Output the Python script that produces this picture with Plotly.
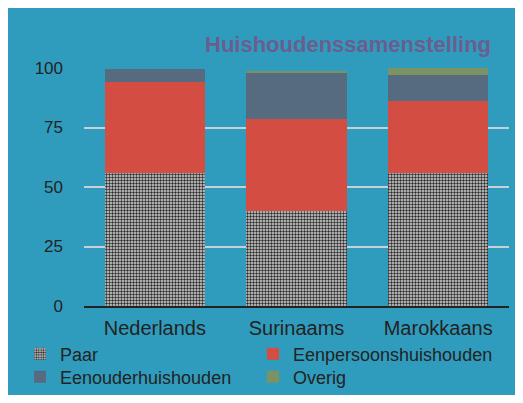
import plotly.graph_objects as go

categories = ["Nederlands", "Surinaams", "Marokkaans"]
paar = [56, 40, 56]
eenpersoons = [38, 38.5, 30]
eenouder = [5.6, 19.8, 11]
overig = [0, 0.4, 3]
y_ticks = [0, 25, 50, 75, 100]

BLUE = "#2f9cbd"
FONT = "Liberation Sans"
TXT = "#232323"

OFF = 8  # page body margin
W, H = 507, 387
L, R, T, B = 76, 6, 60, 89
pw, ph = W - L - R, H - T - B


def px(sx):
    return (sx - OFF - L) / pw


def py(sy):
    return (H - B - (sy - OFF)) / ph


def cx(sx):
    return (sx - OFF) / W


def cy(sy):
    return 1 - (sy - OFF) / H


fig = go.Figure()
fig.add_bar(name="Paar", x=categories, y=paar, legend="legend",
            marker=dict(color="#d6d6d6", line=dict(width=0),
                        pattern=dict(shape=".", fgcolor="#2a2a2a", bgcolor="#d8d8d8",
                                     size=3, solidity=0.5, fillmode="replace")))
fig.add_bar(name="Eenpersoonshuishouden", x=categories, y=eenpersoons, legend="legend2",
            marker=dict(color="#d44d42", line=dict(width=0)))
fig.add_bar(name="Eenouderhuishouden", x=categories, y=eenouder, legend="legend3",
            marker=dict(color="#576b80", line=dict(width=0)))
fig.add_bar(name="Overig", x=categories, y=overig, legend="legend4",
            marker=dict(color="#7c9262", line=dict(width=0)))

leg_common = dict(orientation="v", xanchor="left", yanchor="middle",
                  xref="container", yref="container",
                  font=dict(size=18, color=TXT, family=FONT), bgcolor="rgba(0,0,0,0)",
                  itemwidth=30, tracegroupgap=0)

fig.update_layout(
    width=W, height=H,
    margin=dict(l=L, r=R, t=T, b=B, pad=0, autoexpand=False),
    barmode="stack", bargap=0.29,
    paper_bgcolor=BLUE, plot_bgcolor=BLUE,
    font=dict(family=FONT, color=TXT, size=16),
    showlegend=True,
    legend=dict(x=cx(20), y=cy(354), **leg_common),
    legend2=dict(x=cx(253), y=cy(354), **leg_common),
    legend3=dict(x=cx(20), y=cy(377), **leg_common),
    legend4=dict(x=cx(253), y=cy(377), **leg_common),
    xaxis=dict(showline=True, linecolor="#222222", linewidth=1.5, showgrid=False,
               ticks="", tickfont=dict(size=20, color=TXT), ticklabelstandoff=3,
               fixedrange=True),
    yaxis=dict(range=[0, 100], tickvals=y_ticks, showgrid=True, gridcolor="#c9cfd6",
               gridwidth=2, zeroline=False, showline=False, ticks="",
               tickfont=dict(size=17, color=TXT), ticklabelstandoff=20, fixedrange=True),
    annotations=[
        dict(text="<b>Huishoudenssamenstelling</b>", xref="paper", yref="paper",
             x=px(493), y=py(45), xanchor="right", yanchor="middle", showarrow=False,
             font=dict(size=22, color="#6b5e8e", family=FONT)),
    ],
)

fig.write_html("out.html")
